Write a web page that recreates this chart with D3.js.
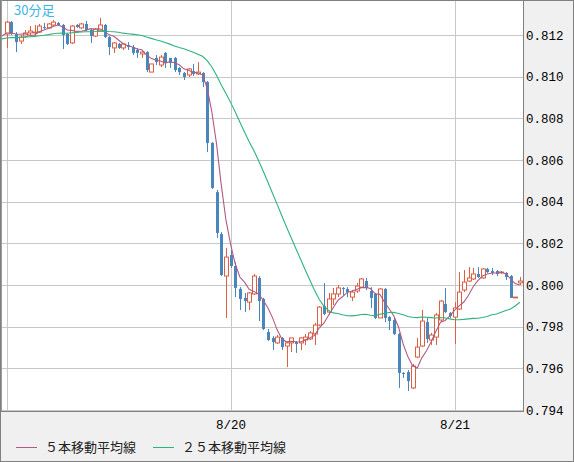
<!DOCTYPE html>
<html><head><meta charset="utf-8">
<script src="https://cdn.jsdelivr.net/npm/d3@7"></script>
<style>
html,body{margin:0;padding:0;background:#f0f0f0;}
svg{display:block;}
</style></head><body>
<svg id="chart" width="574" height="462"></svg>
<script>
// ---- data (30-minute bars) ----
const open = [
0.81205,0.81262,0.81205,0.81171,0.81195,0.81210,0.81210,0.81214,0.81238,0.81234,
0.81248,0.81258,0.81248,0.81205,0.81162,0.81248,0.81234,0.81253,0.81224,0.81195,
0.81219,0.81248,0.81190,0.81138,0.81157,0.81138,0.81152,0.81142,0.81128,0.81109,
0.81118,0.81022,0.81090,0.81056,0.81114,0.81090,0.81090,0.81042,0.81018,0.81008,
0.81027,0.81013,0.81018,0.80974,0.80682,0.80446,0.80245,0.80043,0.80144,0.80091,
0.79981,0.79938,0.79918,0.79957,0.80034,0.79933,0.79774,0.79746,0.79722,0.79746,
0.79707,0.79722,0.79726,0.79722,0.79736,0.79741,0.79765,0.79808,0.79899,0.79870,
0.79933,0.79957,0.79986,0.79981,0.79942,0.79971,0.79990,0.80019,0.79971,0.79957,
0.79842,0.79981,0.79846,0.79832,0.79765,0.79578,0.79582,0.79506,0.79654,0.79707,
0.79822,0.79736,0.79750,0.79832,0.79909,0.79866,0.79846,0.79885,0.79976,0.80019,
0.80029,0.80053,0.80034,0.80077,0.80067,0.80067,0.80058,0.80058,0.80043,0.79938,
0.80010];
const high = [
0.81267,0.81267,0.81214,0.81200,0.81224,0.81243,0.81248,0.81253,0.81258,0.81258,
0.81272,0.81262,0.81253,0.81210,0.81248,0.81253,0.81258,0.81267,0.81229,0.81234,
0.81282,0.81253,0.81195,0.81166,0.81162,0.81162,0.81166,0.81152,0.81138,0.81123,
0.81123,0.81061,0.81104,0.81104,0.81118,0.81090,0.81094,0.81046,0.81022,0.81042,
0.81061,0.81070,0.81022,0.80979,0.80686,0.80456,0.80254,0.80178,0.80168,0.80110,
0.79990,0.79962,0.79966,0.80053,0.80043,0.79938,0.79789,0.79755,0.79760,0.79750,
0.79726,0.79746,0.79731,0.79750,0.79765,0.79779,0.79818,0.79899,0.80010,0.79962,
0.79986,0.80000,0.79990,0.79990,0.79976,0.80010,0.80034,0.80034,0.79990,0.79962,
0.79986,0.79986,0.79851,0.79842,0.79770,0.79582,0.79592,0.79621,0.79746,0.79880,
0.79846,0.79770,0.79866,0.79928,0.79986,0.79870,0.79918,0.80062,0.80072,0.80086,
0.80082,0.80086,0.80082,0.80082,0.80082,0.80072,0.80067,0.80062,0.80048,0.79942,
0.80038];
const low = [
0.81138,0.81200,0.81118,0.81157,0.81186,0.81200,0.81195,0.81210,0.81229,0.81229,
0.81243,0.81243,0.81133,0.81152,0.81157,0.81234,0.81229,0.81219,0.81162,0.81190,
0.81214,0.81186,0.81104,0.81114,0.81133,0.81128,0.81128,0.81104,0.81090,0.81090,
0.81022,0.81022,0.81056,0.81046,0.81042,0.81042,0.81022,0.81008,0.80984,0.80998,
0.81003,0.81008,0.80950,0.80638,0.80461,0.80226,0.80043,0.79842,0.80082,0.79942,
0.79880,0.79870,0.79880,0.79952,0.79827,0.79784,0.79731,0.79688,0.79717,0.79688,
0.79606,0.79678,0.79674,0.79688,0.79712,0.79736,0.79712,0.79803,0.79856,0.79856,
0.79904,0.79942,0.79952,0.79942,0.79923,0.79962,0.79986,0.79976,0.79890,0.79837,
0.79842,0.79822,0.79784,0.79760,0.79506,0.79554,0.79491,0.79501,0.79650,0.79702,
0.79722,0.79712,0.79712,0.79822,0.79866,0.79842,0.79717,0.79880,0.79966,0.80014,
0.80024,0.80034,0.80029,0.80058,0.80048,0.80043,0.80053,0.80024,0.79938,0.79938,
0.80000];
const close = [
0.81262,0.81205,0.81166,0.81190,0.81210,0.81219,0.81214,0.81243,0.81234,0.81253,
0.81262,0.81248,0.81200,0.81157,0.81243,0.81238,0.81253,0.81224,0.81195,0.81229,
0.81248,0.81190,0.81142,0.81162,0.81138,0.81157,0.81142,0.81114,0.81114,0.81118,
0.81032,0.81061,0.81070,0.81094,0.81070,0.81066,0.81032,0.81022,0.80998,0.81037,
0.81013,0.81022,0.80974,0.80682,0.80466,0.80250,0.80048,0.80134,0.80091,0.79986,
0.79933,0.79923,0.79962,0.80043,0.79923,0.79789,0.79736,0.79726,0.79750,0.79702,
0.79722,0.79746,0.79717,0.79746,0.79750,0.79770,0.79808,0.79894,0.79861,0.79933,
0.79957,0.79986,0.79981,0.79966,0.79966,0.79995,0.80029,0.79986,0.79938,0.79842,
0.79981,0.79842,0.79827,0.79765,0.79578,0.79573,0.79539,0.79611,0.79702,0.79827,
0.79741,0.79760,0.79856,0.79923,0.79870,0.79851,0.79890,0.79966,0.80014,0.80034,
0.80053,0.80038,0.80077,0.80062,0.80058,0.80053,0.80062,0.80038,0.79938,0.79942,
0.80019];
// closes of the 25 bars before the visible window (needed for the moving averages)
const priorCloses = [
0.81157,0.81157,0.81166,0.81176,0.81162,0.81171,0.81181,0.81166,0.81176,0.81171,
0.81162,0.81176,0.81181,0.81186,0.81190,0.81186,0.81200,0.81195,0.81205,0.81195,
0.81190,0.81205,0.81190,0.81195,0.81195];
const yTicks = [0.794,0.796,0.798,0.800,0.802,0.804,0.806,0.808,0.810,0.812];
const dayIndex = [0, 48, 96];          // bar index of each day start
const dayLabels = ["8/19", "8/20", "8/21"];
const shownDayLabels = ["8/20", "8/21"];
const maPeriods = [5, 25];
const legendLabels = ["５本移動平均線", "２５本移動平均線"];
const timeframeLabel = "30分足";

// ---- styles ----
const W = 574, H = 462;
const plot = {left: 2, top: 1, right: 523, bottom: 411};
const upColor = "#dc5f41", downColor = "#4a86be";
const maColors = ["#b05a84", "#2db47a"];
const gridColor = "#c8c8c8", borderColor = "#808080";
const monoFont = "'Liberation Mono','DejaVu Sans Mono',monospace";
const jpFont = "'Noto Sans CJK JP','Noto Sans',sans-serif";

const svg = d3.select("#chart");
svg.append("rect").attr("width", W).attr("height", H).attr("fill", "#f0f0f0");
svg.append("rect").attr("x", plot.left).attr("y", plot.top)
  .attr("width", plot.right - plot.left).attr("height", plot.bottom - plot.top).attr("fill", "#fff");

const x = d3.scaleLinear().domain([dayIndex[0], dayIndex[1]]).range([6.5, 230.5]);
const y = d3.scaleLinear().domain([0.794, 0.812]).range([410, 35]);

svg.append("defs").append("clipPath").attr("id", "clip").append("rect")
  .attr("x", plot.left).attr("y", plot.top)
  .attr("width", plot.right - plot.left).attr("height", plot.bottom - plot.top);
const g = svg.append("g").attr("clip-path", "url(#clip)");

// grid
g.selectAll(".hg").data(yTicks).join("line").attr("class", "hg")
  .attr("x1", plot.left).attr("x2", plot.right)
  .attr("y1", d => Math.round(y(d)) + 0.5).attr("y2", d => Math.round(y(d)) + 0.5)
  .attr("stroke", gridColor).attr("stroke-width", 1);
g.selectAll(".vg").data(dayIndex).join("line").attr("class", "vg")
  .attr("x1", d => Math.round(x(d)) + 0.5).attr("x2", d => Math.round(x(d)) + 0.5)
  .attr("y1", plot.top).attr("y2", plot.bottom)
  .attr("stroke", gridColor).attr("stroke-width", 1);

// candles
const bars = d3.range(close.length).map(i => ({i, o: open[i], h: high[i], l: low[i], c: close[i]}));
const cg = g.selectAll(".c").data(bars).join("g").attr("class", "c");
cg.append("line")
  .attr("x1", d => Math.round(x(d.i)) + 0.5).attr("x2", d => Math.round(x(d.i)) + 0.5)
  .attr("y1", d => y(d.h)).attr("y2", d => y(d.l))
  .attr("stroke", d => d.c >= d.o ? upColor : downColor).attr("stroke-width", 1);
cg.filter(d => d.c < d.o).append("rect")
  .attr("x", d => Math.round(x(d.i)) - 1).attr("width", 3)
  .attr("y", d => y(d.o)).attr("height", d => Math.max(1, y(d.c) - y(d.o)))
  .attr("fill", downColor);
cg.filter(d => d.c >= d.o).append("rect")
  .attr("x", d => Math.round(x(d.i)) - 1.5).attr("width", 4)
  .attr("y", d => y(d.c)).attr("height", d => Math.max(0.5, y(d.o) - y(d.c)))
  .attr("fill", "#fff").attr("stroke", upColor).attr("stroke-width", 1);

// moving averages
const allCloses = priorCloses.concat(close);
const pre = priorCloses.length;
function movingAvg(n) {
  return d3.range(-1, close.length).map(i => ({i, v: d3.mean(allCloses.slice(i + pre - n + 1, i + pre + 1))}));
}
const line = d3.line().x(d => x(d.i)).y(d => y(d.v));
maPeriods.forEach((n, k) => {
  g.append("path").datum(movingAvg(n)).attr("d", line)
    .attr("fill", "none").attr("stroke", maColors[k]).attr("stroke-width", 1.1);
});

// timeframe label
svg.append("text").attr("x", 14).attr("y", 15).text(timeframeLabel)
  .attr("font-family", jpFont).attr("font-size", 13).attr("fill", "#3cb4e6");

// plot borders
svg.append("line").attr("x1", plot.right + 0.5).attr("x2", plot.right + 0.5).attr("y1", 0).attr("y2", plot.bottom + 1)
  .attr("stroke", borderColor);
svg.append("line").attr("x1", 0).attr("x2", plot.right + 1).attr("y1", plot.bottom + 0.5).attr("y2", plot.bottom + 0.5)
  .attr("stroke", borderColor);
// outer frame
svg.append("rect").attr("x", 0.5).attr("y", 0.5).attr("width", W - 1).attr("height", H - 1)
  .attr("fill", "none").attr("stroke", borderColor);
svg.append("line").attr("x1", 1.5).attr("x2", 1.5).attr("y1", 0).attr("y2", plot.bottom)
  .attr("stroke", "#9a9a9a");

// y axis (right)
const yAxis = d3.axisRight(y).tickValues(yTicks).tickFormat(d3.format(".3f")).tickSize(0).tickPadding(3);
const ya = svg.append("g").attr("transform", `translate(${plot.right},0)`).call(yAxis);
ya.select(".domain").remove();
ya.selectAll("text").attr("font-family", monoFont).attr("font-size", 12.5).attr("fill", "#000");

// x axis (day labels)
const xAxis = d3.axisBottom(x)
  .tickValues(dayIndex.filter((d, k) => shownDayLabels.includes(dayLabels[k])))
  .tickFormat(d => dayLabels[dayIndex.indexOf(d)]).tickSize(0).tickPadding(8);
const xa = svg.append("g").attr("transform", `translate(0,${plot.bottom + 1})`).call(xAxis);
xa.select(".domain").remove();
xa.selectAll("text").attr("font-family", monoFont).attr("font-size", 12.5).attr("fill", "#000");

// legend
const legendX = [16, 153];
const lg = svg.selectAll(".lg").data(legendLabels).join("g").attr("class", "lg")
  .attr("transform", (d, k) => `translate(${legendX[k]},447.5)`);
lg.append("line").attr("x1", 0).attr("x2", 21).attr("y1", 0).attr("y2", 0)
  .attr("stroke", (d, k) => maColors[k]).attr("stroke-width", 1);
lg.append("text").attr("x", 29).attr("y", 0).attr("dy", "0.35em").text(d => d)
  .attr("font-family", jpFont).attr("font-size", 13).attr("fill", "#222");
</script>
</body></html>
